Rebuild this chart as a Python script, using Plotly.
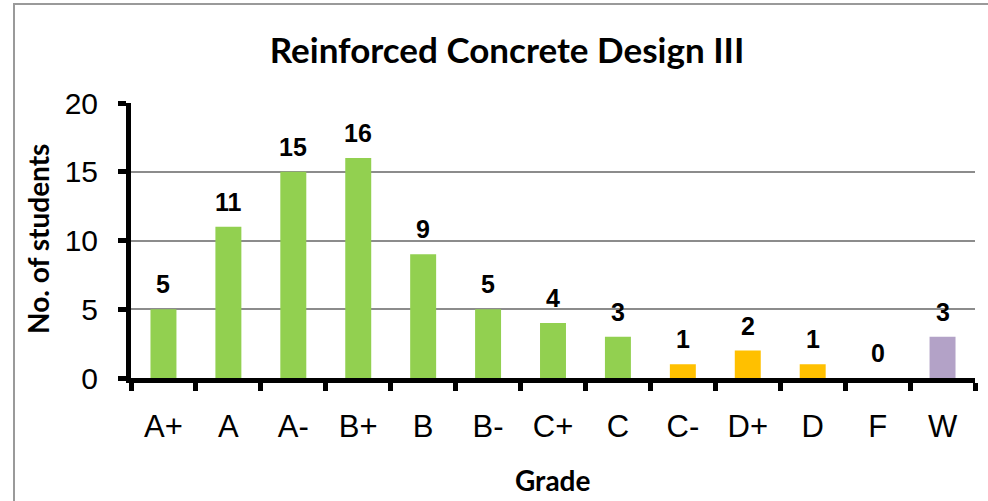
import plotly.graph_objects as go

grades = ["A+", "A", "A-", "B+", "B", "B-", "C+", "C", "C-", "D+", "D", "F", "W"]
students = [5, 11, 15, 16, 9, 5, 4, 3, 1, 2, 1, 0, 3]
bar_colors = ["#92D050"] * 8 + ["#FFC000"] * 3 + ["#92D050"] + ["#B3A2C7"]
y_ticks = [0, 5, 10, 15, 20]

FONT = "Liberation Sans, Arial, sans-serif"
TFONT = "Lato, Carlito, Calibri, sans-serif"

fig = go.Figure()
fig.add_trace(go.Bar(x=grades, y=students, marker=dict(color=bar_colors, line=dict(width=0)),
                     hoverinfo="x+y"))

for g, v in zip(grades, students):
    fig.add_annotation(x=g, y=v, text=f"<b>{v}</b>", showarrow=False, yanchor="bottom",
                       yshift=9, font=dict(family=FONT, size=25, color="black"))

L, R, T, B = 131, 13, 103, 123
W, H = 988, 501
pw, ph = W - L - R, H - T - B

# chart-area frame: only left and top edges fall inside the picture
fx0 = (14 - L) / pw
fy1 = ((H - B) - 4) / ph
fx1 = (W - L) / pw
fy0 = -(H - (H - B)) / ph
fig.add_shape(type="path", xref="paper", yref="paper",
              path=f"M {fx0} {fy0} L {fx0} {fy1} L {fx1} {fy1}",
              line=dict(color="#9a9a9a", width=2), layer="below")

# axis titles
fig.add_annotation(xref="paper", yref="paper", x=(38 - L) / pw, y=((H - B) - 239) / ph,
                   text="<b>No. of students</b>", textangle=-90, showarrow=False,
                   xanchor="center", yanchor="middle",
                   font=dict(family=TFONT, size=28, color="black"))
fig.add_annotation(xref="paper", yref="paper", x=(552 - L) / pw, y=((H - B) - 480) / ph,
                   text="<b>Grade</b>", showarrow=False, xanchor="center", yanchor="middle",
                   font=dict(family=TFONT, size=28, color="black"))

fig.update_layout(
    width=W, height=H,
    margin=dict(l=L, r=R, t=T, b=B, autoexpand=False),
    paper_bgcolor="white", plot_bgcolor="white",
    bargap=0.6, showlegend=False,
    font=dict(family=FONT, color="black"),
    title=dict(text="<b>Reinforced Concrete Design III</b>", x=507 / W, xanchor="center",
               y=1 - 51 / H, yanchor="middle", font=dict(family=TFONT, size=35, color="black")),
    xaxis=dict(
        tickmode="array", tickvals=grades, tickson="boundaries",
        showline=True, linecolor="black", linewidth=5,
        ticks="outside", ticklen=8, tickwidth=5, tickcolor="black",
        tickfont=dict(family=FONT, size=31, color="black"),
        ticklabelstandoff=17, automargin=False,
        showgrid=False, zeroline=False,
    ),
    yaxis=dict(
        range=[0, 20], tickvals=y_ticks, automargin=False,
        showline=True, linecolor="black", linewidth=5,
        ticks="outside", ticklen=8, tickwidth=5, tickcolor="black",
        tickfont=dict(family=FONT, size=30, color="black"),
        ticklabelstandoff=14,
        showgrid=True, gridcolor="#8c8c8c", gridwidth=2,
        zeroline=False,
    ),
)

fig.write_html("out.html", config={"displayModeBar": False},
               post_script="document.body.style.margin='0';document.body.style.overflow='hidden';")
